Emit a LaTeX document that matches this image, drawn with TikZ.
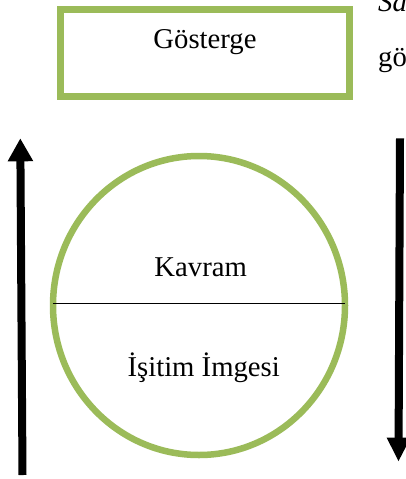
\documentclass[tikz,border=0pt]{standalone}
\usepackage{fontspec}
\setmainfont{Liberation Serif}
\usepackage{tikz}
\usetikzlibrary{calc}
\usetikzlibrary{arrows.meta}
\usetikzlibrary{positioning}
\usetikzlibrary{shapes.geometric}
\usepackage{color}
\definecolor{olivegreen}{RGB}{155, 187, 89}
\tikzset{
    label text/.style={font=\fontsize{28.7}{34}\selectfont, inner sep=0pt, anchor=base},
    thick arrow/.style={line width=8pt, -{Triangle[length=23pt, width=24pt]}}
}

\begin{document}
\begin{tikzpicture}[x=1pt, y=-1pt]
            \useasboundingbox                                                 (0, 0) rectangle (406, 479);
            \clip                                                             (0, 0) rectangle (406, 479);
            % Sign box
            \node[draw=olivegreen, line width=7pt, minimum width=289pt, minimum height=87pt] (gosterge) at (205.0, 53.0) {};
            \node[label text] (gostergetext) at (205.0, 48.3) {Gösterge};
            % Cut off text on the right
            \node[label text, anchor=base west] (sa) at (378.0, 12.0) {\itshape Sa};
            \node[label text, anchor=base west] (go) at (378.0, 66.0) {gö};
            % Sign circle
            \node[ellipse, draw=olivegreen, line width=6.5pt, minimum width=292pt, minimum height=299pt] (sign) at (199.0, 305.5) {};
            \draw[line width=1.3pt, shorten <=3pt, shorten >=3pt]             ([yshift=2.2pt]sign.west) -- ([yshift=2.2pt]sign.east);
            \node[label text] (kavram) at (200.7, 276.0) {Kavram};
            \node[label text] (isitim) at (203.7, 376.7) {İşitim İmgesi};
            % Arrows
            \coordinate (upstart)   at ( 22.5, 475.0);
            \coordinate (upend)     at ( 20.3, 138.3);
            \coordinate (downstart) at (400.0, 138.3);
            \coordinate (downend)   at (398.5, 461.7);
            \draw[thick arrow]                                                (upstart) -- (upend);
            \draw[thick arrow, -{Triangle[length=24pt, width=22pt]}]          (downstart) -- (downend);
        \end{tikzpicture}
\end{document}
